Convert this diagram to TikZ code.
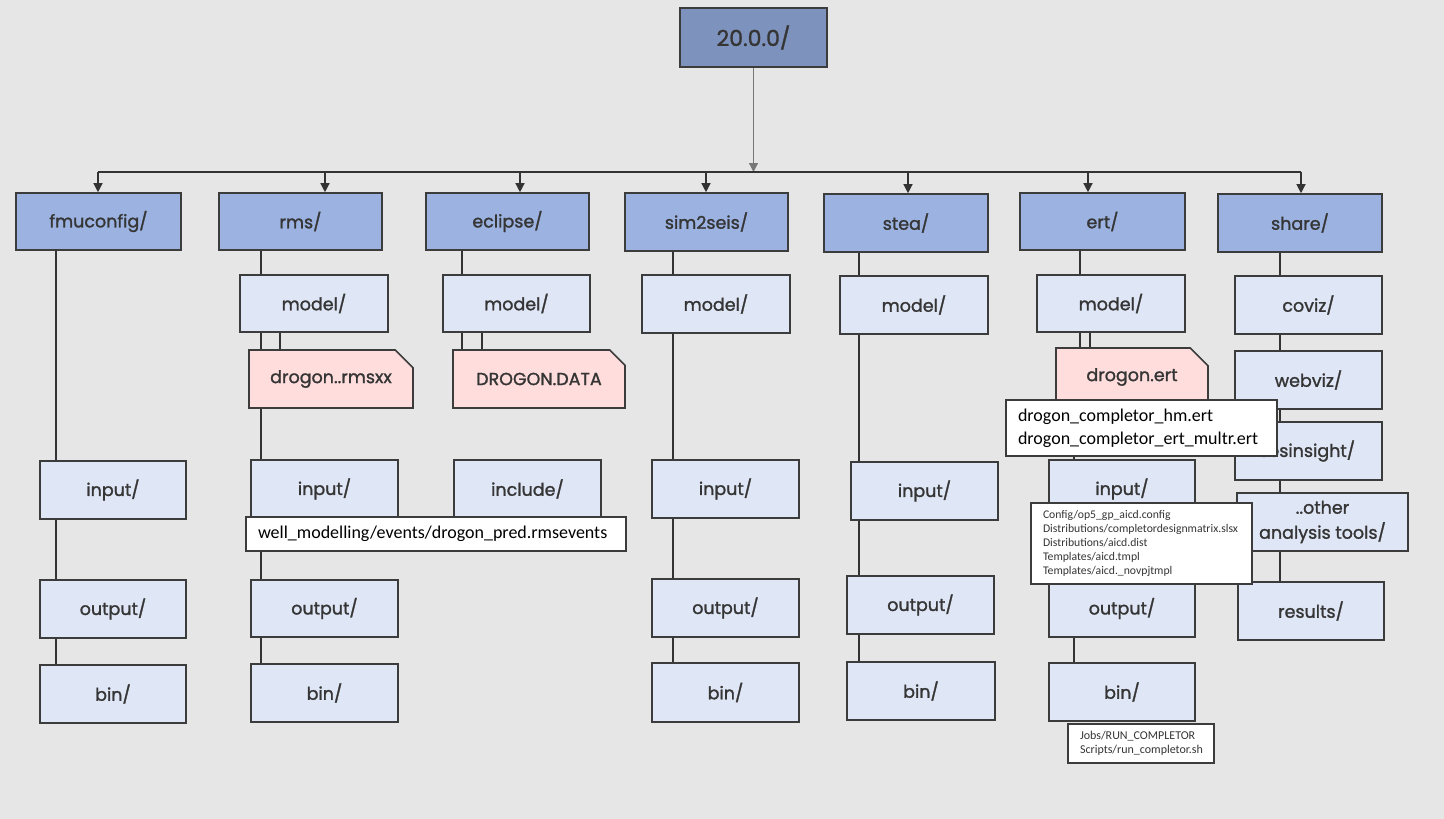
\documentclass[tikz,border=0pt]{standalone}
\usepackage{fontspec}
\setmainfont{Poppins}[FakeBold=1.4]
\newfontfamily\calfont{Carlito}
\usetikzlibrary{arrows.meta,shapes.misc}
\definecolor{bg}{HTML}{E6E6E6}
\definecolor{rootc}{HTML}{7E92BE}
\definecolor{topc}{HTML}{9CB3E2}
\definecolor{subc}{HTML}{DFE6F5}
\definecolor{filec}{HTML}{FFDDDD}
\definecolor{edge}{HTML}{3C3C3C}
\definecolor{txt}{HTML}{353535}
\definecolor{linec}{HTML}{333333}
\definecolor{rootline}{HTML}{777777}
\tikzset{
  box/.style={draw=edge, line width=1.6pt, text=txt, inner sep=0pt,
    font=\fontsize{17.5}{21}\selectfont, align=center},
  rootbox/.style={box, fill=rootc, minimum width=147pt, minimum height=59pt,
    font=\fontsize{22}{26}\selectfont},
  topbox/.style={box, fill=topc, minimum width=165pt, minimum height=57pt},
  subbox/.style={box, fill=subc, minimum width=147pt, minimum height=58pt},
  filebox/.style={box, fill=filec, chamfered rectangle,
    chamfered rectangle corners=north east, chamfered rectangle xsep=9pt,
    chamfered rectangle ysep=9pt, minimum height=58pt},
  note/.style={draw=edge, fill=white, line width=1.4pt, align=left, text=black,
    inner ysep=0pt, inner xsep=12pt},
  link/.style={draw=linec, line width=1.3pt},
  arr/.style={link, -{Triangle[length=9pt,width=9pt]}},
}
\begin{document}
\begin{tikzpicture}[x=1pt,y=-1pt]
\fill[bg] (0,0) rectangle (1444,819);
\useasboundingbox (0,0) rectangle (1444,819);

% root
\node[rootbox] (root) at (753.5,37.5) {20.0.0/};

% top level
\node[topbox] (fmuconfig) at (98.5,221.5) {fmuconfig/};
\node[topbox, minimum width=163pt] (rms) at (300.5,221.5) {rms/};
\node[topbox, minimum width=163pt] (eclipse) at (507.5,221.5) {eclipse/};
\node[topbox, minimum width=163pt, minimum height=58pt] (sim2seis) at (706.5,222) {sim2seis/};
\node[topbox, minimum width=164pt, minimum height=58pt] (stea) at (906,223) {stea/};
\node[topbox] (ert) at (1102.5,221.5) {ert/};
\node[topbox, minimum width=164pt, minimum height=58pt] (share) at (1300,223) {share/};

% second level
\node[subbox, minimum width=148pt, minimum height=57pt] (rmsmodel) at (314,303.5) {model/};
\node[subbox, minimum height=57pt] (eclmodel) at (516.5,303.5) {model/};
\node[subbox, minimum width=148pt] (simmodel) at (716,304) {model/};
\node[subbox, minimum width=148pt] (steamodel) at (914,305) {model/};
\node[subbox, minimum width=148pt, minimum height=57pt] (ertmodel) at (1111,303.5) {model/};
\node[subbox] (coviz) at (1308.5,305) {coviz/};

% files
\node[filebox, minimum width=164pt] (rmsfile) at (331,379) {drogon..rmsxx};
\node[filebox, minimum width=172pt] (eclfile) at (539,379) {DROGON.DATA};
\node[filebox, minimum width=152pt] (ertfile) at (1132,377) {drogon.ert};

% share children
\node[subbox] (webviz) at (1308.5,380) {webviz/};
\node[subbox] (resinsight) at (1308.5,451) {resinsight/};
\node[subbox, minimum width=171pt, font=\fontsize{17.5}{25}\selectfont] (other) at (1322.5,522) {..other\\analysis tools/};
\node[subbox, minimum width=146pt] (results) at (1311,611) {results/};

% lower levels
\node[subbox, minimum width=146pt] (fmuin) at (113,490) {input/};
\node[subbox, minimum width=146pt] (fmuout) at (113,609) {output/};
\node[subbox, minimum width=146pt] (fmubin) at (113,694) {bin/};

\node[subbox] (rmsin) at (324.5,489) {input/};
\node[subbox, minimum height=57pt] (rmsout) at (324.5,608.5) {output/};
\node[subbox] (rmsbin) at (324.5,693) {bin/};

\node[subbox] (include) at (527.5,489) {include/};

\node[subbox] (simin) at (725.5,489) {input/};
\node[subbox] (simout) at (725.5,608) {output/};
\node[subbox, minimum height=59pt] (simbin) at (725.5,692.5) {bin/};

\node[subbox] (steain) at (924.5,491) {input/};
\node[subbox] (steaout) at (920.5,605) {output/};
\node[subbox, minimum width=148pt] (steabin) at (921,691) {bin/};

\node[subbox, minimum width=146pt] (ertin) at (1122,489) {input/};
\node[subbox, minimum width=146pt, minimum height=57pt] (ertout) at (1122,608.5) {output/};
\node[subbox, minimum width=146pt] (ertbin) at (1122,692) {bin/};

% connector x positions
\coordinate (busy) at (0,172);
\coordinate (a1) at (98,0);
\coordinate (a2) at (325,0);
\coordinate (a3) at (520,0);
\coordinate (a4) at (706,0);
\coordinate (a5) at (908,0);
\coordinate (a6) at (1088,0);
\coordinate (a7) at (1301,0);
\coordinate (xf) at (56,0);
\coordinate (xr) at (261,0);
\coordinate (xr2) at (280,0);
\coordinate (xe) at (462,0);
\coordinate (xe2) at (482,0);
\coordinate (xs) at (673,0);
\coordinate (xt) at (859,0);
\coordinate (xa) at (1080,0);
\coordinate (xb) at (1090,0);
\coordinate (xc) at (1074,0);
\coordinate (xh) at (1280,0);

% top arrows
\draw[arr, draw=rootline] (root.south) -- (root.south |- busy);
\draw[link] (a1 |- busy) -- (a7 |- busy);
\draw[arr] (a1 |- busy) -- (fmuconfig.north -| a1);
\draw[arr] (a2 |- busy) -- (rms.north -| a2);
\draw[arr] (a3 |- busy) -- (eclipse.north -| a3);
\draw[arr] (a4 |- busy) -- (sim2seis.north -| a4);
\draw[arr] (a5 |- busy) -- (stea.north -| a5);
\draw[arr] (a6 |- busy) -- (ert.north -| a6);
\draw[arr] (a7 |- busy) -- (share.north -| a7);

% fmuconfig
\draw[link] (fmuconfig.south -| xf) -- (fmuin.north -| xf);
\draw[link] (fmuin.south -| xf) -- (fmuout.north -| xf);
\draw[link] (fmuout.south -| xf) -- (fmubin.north -| xf);
% rms
\draw[link] (rms.south -| xr) -- (rmsmodel.north -| xr);
\draw[link] (rmsmodel.south -| xr) -- (rmsfile.north -| xr);
\draw[link] (rmsmodel.south -| xr2) -- (rmsfile.north -| xr2);
\draw[link] (rmsfile.south -| xr) -- (rmsin.north -| xr);
\draw[link] (rmsin.south -| xr) -- (rmsout.north -| xr);
\draw[link] (rmsout.south -| xr) -- (rmsbin.north -| xr);
% eclipse
\draw[link] (eclipse.south -| xe) -- (eclmodel.north -| xe);
\draw[link] (eclmodel.south -| xe) -- (eclfile.north -| xe);
\draw[link] (eclmodel.south -| xe2) -- (eclfile.north -| xe2);
% sim2seis
\draw[link] (sim2seis.south -| xs) -- (simmodel.north -| xs);
\draw[link] (simmodel.south -| xs) -- (simin.north -| xs);
\draw[link] (simin.south -| xs) -- (simout.north -| xs);
\draw[link] (simout.south -| xs) -- (simbin.north -| xs);
% stea
\draw[link] (stea.south -| xt) -- (steamodel.north -| xt);
\draw[link] (steamodel.south -| xt) -- (steain.north -| xt);
\draw[link] (steain.south -| xt) -- (steaout.north -| xt);
\draw[link] (steaout.south -| xt) -- (steabin.north -| xt);
% ert
\draw[link] (ert.south -| xa) -- (ertmodel.north -| xa);
\draw[link] (ertmodel.south -| xa) -- (ertfile.north -| xa);
\draw[link] (ertmodel.south -| xb) -- (ertfile.north -| xb);
\draw[link] (ertfile.south -| xc) -- (ertin.north -| xc);
\draw[link] (ertin.south -| xc) -- (ertout.north -| xc);
\draw[link] (ertout.south -| xc) -- (ertbin.north -| xc);
% share
\draw[link] (share.south -| xh) -- (coviz.north -| xh);
\draw[link] (coviz.south -| xh) -- (webviz.north -| xh);
\draw[link] (webviz.south -| xh) -- (resinsight.north -| xh);
\draw[link] (resinsight.south -| xh) -- (other.north -| xh);
\draw[link] (other.south -| xh) -- (results.north -| xh);

% white notes
\node[note, text width=356pt, minimum height=34pt,
  font=\calfont\fontsize{18}{20}\selectfont] (wellnote) at (436,534)
  {well\_modelling/events/drogon\_pred.rmsevents};
\node[note, text width=247pt, minimum height=56pt,
  font=\calfont\fontsize{18}{22.7}\selectfont] (ertnote) at (1141.5,428)
  {drogon\_completor\_hm.ert\\drogon\_completor\_ert\_multr.ert};
\node[note, text width=197pt, minimum height=81pt, text=txt,
  font=\calfont\fontsize{11.7}{14}\selectfont] (confnote) at (1141.5,543.5)
  {Config/op5\_gp\_aicd.config\\Distributions/completordesignmatrix.slsx\\Distributions/aicd.dist\\Templates/aicd.tmpl\\Templates/aicd.\_novpjtmpl};
\node[note, text width=122pt, minimum height=39pt, text=txt,
  font=\calfont\fontsize{12}{13.7}\selectfont] (jobnote) at (1141,743.5)
  {Jobs/RUN\_COMPLETOR\\Scripts/run\_completor.sh};
\end{tikzpicture}
\end{document}
